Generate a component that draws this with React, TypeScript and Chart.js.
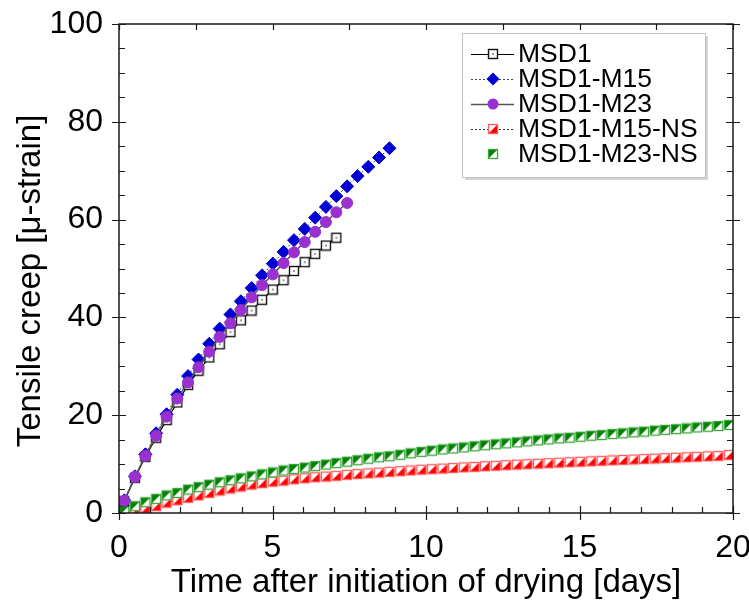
import React, { useEffect, useRef } from 'react';
import { Chart, registerables } from 'chart.js';
Chart.register(...registerables);

// ---- data ----
const days = [
  0.17, 0.52, 0.86, 1.21, 1.55, 1.9, 2.25, 2.59, 2.94, 3.28,
  3.63, 3.97, 4.32, 4.66, 5.01, 5.36, 5.7, 6.05, 6.39, 6.74,
  7.08, 7.43, 7.77, 8.12, 8.47, 8.81, 9.16, 9.5, 9.85, 10.19,
  10.54, 10.88, 11.23, 11.58, 11.92, 12.27, 12.61, 12.96, 13.3, 13.65,
  13.99, 14.34, 14.68, 15.03, 15.38, 15.72, 16.07, 16.41, 16.76, 17.1,
  17.45, 17.79, 18.14, 18.49, 18.83, 19.18, 19.52, 19.87,
];

const msd1 = [
  2.4, 7.2, 11.5, 15.4, 19.0, 22.6, 26.2, 29.1, 31.8, 34.5,
  37.0, 39.4, 41.4, 43.6, 45.7, 47.6, 49.5, 51.3, 53.0, 54.7, 56.3,
];

const msd1M15 = [
  2.6, 7.5, 12.0, 16.3, 20.2, 24.2, 28.0, 31.4, 34.6, 37.7,
  40.6, 43.3, 46.0, 48.6, 51.0, 53.4, 55.8, 58.1, 60.4, 62.6,
  64.8, 66.8, 68.9, 70.8, 72.7, 74.6,
];

const msd1M23 = [
  2.5, 7.4, 11.7, 15.8, 19.7, 23.4, 26.7, 29.8, 33.0, 36.0,
  38.8, 41.5, 44.1, 46.6, 48.8, 51.1, 53.3, 55.4, 57.5, 59.5,
  61.5, 63.4,
];

const msd1M15NS = [
  0.0, 0.4, 0.9, 1.4, 2.1, 2.6, 3.1, 3.6, 4.1, 4.6,
  5.0, 5.4, 5.8, 6.1, 6.4, 6.6, 6.9, 7.1, 7.3, 7.45,
  7.6, 7.8, 7.95, 8.1, 8.25, 8.4, 8.55, 8.7, 8.85, 8.95,
  9.08, 9.2, 9.32, 9.43, 9.55, 9.66, 9.77, 9.88, 9.98, 10.08,
  10.18, 10.28, 10.38, 10.47, 10.57, 10.66, 10.76, 10.85, 10.94, 11.03,
  11.12, 11.21, 11.3, 11.39, 11.48, 11.58, 11.68, 11.85,
];

const msd1M23NS = [
  0.5, 1.4, 2.2, 2.9, 3.6, 4.1, 4.8, 5.3, 5.8, 6.3,
  6.7, 7.1, 7.5, 7.9, 8.3, 8.7, 9.0, 9.3, 9.6, 9.9,
  10.2, 10.5, 10.8, 11.1, 11.4, 11.6, 11.9, 12.2, 12.5, 12.75,
  13.0, 13.2, 13.4, 13.65, 13.85, 14.05, 14.25, 14.45, 14.65, 14.85,
  15.05, 15.25, 15.4, 15.6, 15.8, 15.95, 16.15, 16.3, 16.5, 16.65,
  16.85, 17.0, 17.15, 17.3, 17.5, 17.65, 17.8, 18.0,
];

const seriesLabels = ['MSD1', 'MSD1-M15', 'MSD1-M23', 'MSD1-M15-NS', 'MSD1-M23-NS'];
const xAxisTitle = 'Time after initiation of drying [days]';
const yAxisTitle = 'Tensile creep [\u03bc-strain]';

const FONT = "'Liberation Sans', Arial, sans-serif";

function pts(vals: number[]) {
  return vals.map((v, i) => ({ x: days[i], y: v }));
}

function makeMarker(kind: string): HTMLCanvasElement {
  const c = document.createElement('canvas');
  c.width = 12;
  c.height = 12;
  const g = c.getContext('2d')!;
  g.fillStyle = '#ffffff';
  g.fillRect(1, 1, 10, 10);
  if (kind === 'open') {
    g.strokeStyle = '#111111';
    g.lineWidth = 1.4;
    g.strokeRect(1.5, 1.5, 9, 9);
    g.fillStyle = '#333333';
    g.fillRect(5.3, 5.3, 1.4, 1.4);
  } else if (kind === 'green') {
    g.fillStyle = '#008000';
    g.beginPath();
    g.moveTo(1, 1);
    g.lineTo(11, 1);
    g.lineTo(1, 11);
    g.closePath();
    g.fill();
    g.strokeStyle = '#3aa53a';
    g.lineWidth = 1.3;
    g.strokeRect(1.5, 1.5, 9, 9);
  } else {
    g.fillStyle = '#ff0000';
    g.beginPath();
    g.moveTo(11, 1);
    g.lineTo(11, 11);
    g.lineTo(1, 11);
    g.closePath();
    g.fill();
    g.strokeStyle = '#ff5a5a';
    g.lineWidth = 1.3;
    g.strokeRect(1.5, 1.5, 9, 9);
  }
  return c;
}

const framePlugin = {
  id: 'frameAndLegend',
  afterDraw(chart: any) {
    const { ctx, chartArea: a, scales } = chart;
    const xs = scales.x;
    const ys = scales.y;
    ctx.save();
    // frame
    ctx.strokeStyle = '#1a1a1a';
    ctx.lineWidth = 1.5;
    ctx.strokeRect(a.left, a.top, a.right - a.left, a.bottom - a.top);
    ctx.lineWidth = 1.2;
    ctx.beginPath();
    for (let v = 0; v <= 20; v++) {
      const px = Math.round(xs.getPixelForValue(v)) + 0.5;
      if (v % 5 === 0) {
        ctx.moveTo(px, a.bottom + 7);
        ctx.lineTo(px, a.bottom - 7);
      } else {
        ctx.moveTo(px, a.bottom);
        ctx.lineTo(px, a.bottom - 6);
      }
    }
    for (let v = 0; v <= 20; v += 2.5) {
      const px = Math.round(xs.getPixelForValue(v)) + 0.5;
      ctx.moveTo(px, a.top);
      ctx.lineTo(px, a.top + 6);
    }
    for (let v = 0; v <= 100; v += 5) {
      const py = Math.round(ys.getPixelForValue(v)) + 0.5;
      if (v % 20 === 0) {
        ctx.moveTo(a.left - 7, py);
        ctx.lineTo(a.left + 7, py);
        ctx.moveTo(a.right - 7, py);
        ctx.lineTo(a.right + 7, py);
      } else {
        ctx.moveTo(a.left, py);
        ctx.lineTo(a.left + 6, py);
        ctx.moveTo(a.right, py);
        ctx.lineTo(a.right - 6, py);
      }
    }
    ctx.stroke();

    // axis titles
    ctx.fillStyle = '#000';
    ctx.font = `33px ${FONT}`;
    ctx.textAlign = 'center';
    ctx.textBaseline = 'middle';
    ctx.fillText(xAxisTitle, (a.left + a.right) / 2, 583);
    ctx.save();
    ctx.translate(31, 281);
    ctx.rotate(-Math.PI / 2);
    ctx.fillText(yAxisTitle, 0, 0);
    ctx.restore();

    // legend
    const L = 462, T = 33, R = 705, B = 177;
    ctx.fillStyle = '#d4d4d4';
    ctx.fillRect(L + 3, T + 3, R - L, B - T);
    ctx.fillStyle = '#ffffff';
    ctx.fillRect(L, T, R - L, B - T);
    ctx.strokeStyle = '#c4c4c4';
    ctx.lineWidth = 1;
    ctx.strokeRect(L + 0.5, T + 0.5, R - L, B - T);

    chart.data.datasets.forEach((ds: any, i: number) => {
      const y = 54 + i * 25;
      if (ds.showLine !== false) {
        ctx.save();
        ctx.strokeStyle = ds.borderColor;
        ctx.lineWidth = ds.borderWidth;
        ctx.setLineDash(ds.borderDash || []);
        ctx.beginPath();
        ctx.moveTo(471, y + 0.5);
        ctx.lineTo(514, y + 0.5);
        ctx.stroke();
        ctx.restore();
      }
      const mx = 493;
      const st = ds.pointStyle;
      if (st instanceof HTMLCanvasElement) {
        ctx.drawImage(st, mx - st.width / 2, y - st.height / 2);
      } else if (st === 'rectRot') {
        const r = ds.pointRadius;
        ctx.fillStyle = ds.pointBackgroundColor;
        ctx.beginPath();
        ctx.moveTo(mx, y - r);
        ctx.lineTo(mx + r, y);
        ctx.lineTo(mx, y + r);
        ctx.lineTo(mx - r, y);
        ctx.closePath();
        ctx.fill();
      } else {
        ctx.fillStyle = ds.pointBackgroundColor;
        ctx.beginPath();
        ctx.arc(mx, y, ds.pointRadius, 0, Math.PI * 2);
        ctx.fill();
      }
      ctx.fillStyle = '#000';
      ctx.font = `26.5px ${FONT}`;
      ctx.textAlign = 'left';
      ctx.textBaseline = 'middle';
      ctx.fillText(ds.label, 518, y + 1);
    });
    ctx.restore();
  },
};

function noPad(s: any) {
  s.paddingLeft = 0;
  s.paddingRight = 0;
  s.paddingTop = 0;
  s.paddingBottom = 0;
}

export default function App() {
  const ref = useRef<HTMLCanvasElement | null>(null);
  useEffect(() => {
    if (!ref.current) return;
    const openSq = makeMarker('open');
    const greenSq = makeMarker('green');
    const redSq = makeMarker('red');
    const chart = new Chart(ref.current, {
      type: 'line',
      data: {
        datasets: [
          {
            label: seriesLabels[0],
            data: pts(msd1),
            borderColor: '#000000',
            borderWidth: 1.2,
            pointStyle: openSq as any,
            pointRadius: 6,
            pointBackgroundColor: '#ffffff',
            order: 3,
          },
          {
            label: seriesLabels[1],
            data: pts(msd1M15),
            borderColor: '#444444',
            borderWidth: 1,
            borderDash: [2, 2],
            pointStyle: 'rectRot',
            pointRadius: 6.5,
            pointBackgroundColor: '#0000d2',
            pointBorderColor: '#0000d2',
            pointBorderWidth: 1,
            order: 2,
          },
          {
            label: seriesLabels[2],
            data: pts(msd1M23),
            borderColor: '#555555',
            borderWidth: 1.5,
            pointStyle: 'circle',
            pointRadius: 5.5,
            pointBackgroundColor: '#9b30d0',
            pointBorderColor: '#9b30d0',
            pointBorderWidth: 1,
            order: 1,
          },
          {
            label: seriesLabels[3],
            data: pts(msd1M15NS),
            borderColor: '#333333',
            borderWidth: 1,
            borderDash: [2, 2],
            pointStyle: redSq as any,
            pointRadius: 6,
            pointBackgroundColor: '#ff0000',
            order: 5,
          },
          {
            label: seriesLabels[4],
            data: pts(msd1M23NS),
            borderColor: '#008000',
            borderWidth: 1,
            showLine: false,
            pointStyle: greenSq as any,
            pointRadius: 6,
            pointBackgroundColor: '#008000',
            order: 4,
          },
        ] as any,
      },
      options: {
        animation: false,
        responsive: false,
        maintainAspectRatio: false,
        devicePixelRatio: 1,
        layout: { padding: { left: 0, top: 24, right: 16, bottom: 0 } },
        plugins: { legend: { display: false }, tooltip: { enabled: false } },
        scales: {
          x: {
            type: 'linear',
            min: 0,
            max: 20,
            grid: { display: false, drawTicks: false },
            border: { display: false },
            ticks: {
              stepSize: 5,
              color: '#000',
              padding: 16,
              font: { family: FONT, size: 32 },
              maxRotation: 0,
            },
            afterFit: (s: any) => {
              s.height = 91;
              noPad(s);
            },
          },
          y: {
            type: 'linear',
            min: 0,
            max: 100,
            grid: { display: false, drawTicks: false },
            border: { display: false },
            ticks: {
              stepSize: 20,
              color: '#000',
              padding: 16,
              font: { family: FONT, size: 32 },
            },
            afterFit: (s: any) => {
              s.width = 119;
              noPad(s);
            },
          },
        },
      },
      plugins: [framePlugin],
    } as any);
    return () => chart.destroy();
  }, []);
  return (
    <div style={{ position: 'fixed', left: 0, top: 0, width: 749, height: 604, background: '#fff' }}>
      <canvas ref={ref} width={749} height={604} style={{ width: 749, height: 604, display: 'block' }} />
    </div>
  );
}
